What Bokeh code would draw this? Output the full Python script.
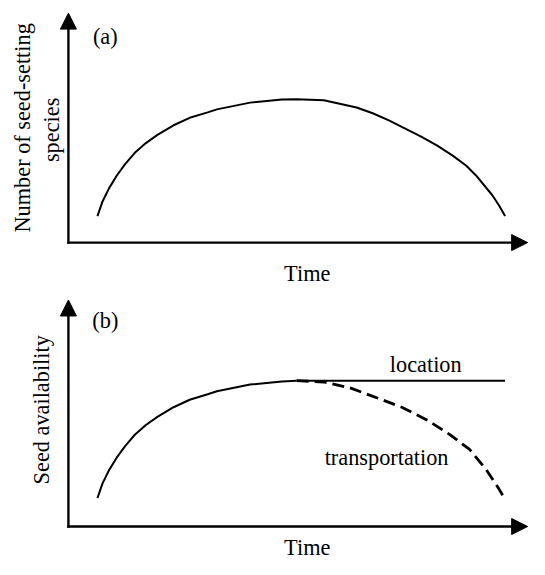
import numpy as np
from bokeh.plotting import figure
from bokeh.models import Range1d, Arrow, NormalHead, Label
from bokeh.layouts import column
from bokeh.embed import file_html
from bokeh.resources import INLINE

# ---------------- data (time / value units) ----------------
# Panel (a): number of seed-setting species over time
time_a = [6.3, 7.4, 8.8, 10.5, 12.3, 14.4, 16.8, 19.3, 22.8, 26.3, 30.2, 32.2, 39.4,
          46.3, 49.5, 55.4, 62.5, 66.0, 69.5, 76.5, 80.0, 83.5, 86.3, 88.4, 91.9, 93.3, 94.7]
species_a = [18.5, 28.7, 37.8, 46.8, 54.7, 62.6, 69.4, 75.1, 81.8, 87.0, 90.8, 92.9, 97.6,
             99.7, 100.0, 99.2, 94.2, 90.2, 85.2, 73.9, 67.6, 60.3, 53.6, 46.8, 33.2, 26.4, 18.5]

# Panel (b): seed availability, rising part (shared), then location vs transportation
time_b_rise = [6.3, 7.4, 8.8, 10.5, 12.3, 14.4, 16.8, 19.3, 22.8, 26.3, 30.2, 32.2, 39.4, 46.3, 49.5]
avail_b_rise = [19.9, 30.1, 39.2, 48.2, 56.1, 64.0, 70.8, 76.5, 83.2, 88.4, 92.2, 94.3, 99.0, 101.1, 101.7]

time_location = [49.5, 94.7]
avail_location = [101.7, 101.7]

time_transport = [49.5, 55.4, 61.1, 66.7, 72.3, 77.9, 82.8, 87.0, 90.5, 93.3, 94.7]
avail_transport = [101.7, 100.8, 96.7, 90.0, 83.2, 74.1, 63.9, 53.8, 40.2, 26.6, 19.0]

# axis extents (arrow tips)
time_axis_end = 99.6
value_axis_end_a = 160.0
value_axis_end_b = 158.0

FONT = "Liberation Serif"
FS = "22.3px"


def make_fig(height, y_start, y_end):
    p = figure(width=529, height=height,
               x_range=Range1d(-14.73, 100.0), y_range=Range1d(y_start, y_end),
               x_axis_type=None, y_axis_type=None,
               toolbar_location=None, output_backend="svg",
               min_border=0, outline_line_color=None)
    p.xgrid.visible = False
    p.ygrid.visible = False
    p.background_fill_color = "white"
    p.border_fill_color = "white"
    return p


def add_axes(p, y_top):
    for xe, ye in [(0, y_top), (time_axis_end, 0)]:
        p.add_layout(Arrow(end=NormalHead(size=16, fill_color="black", line_color="black", line_width=1),
                           x_start=0, y_start=0, x_end=xe, y_end=ye,
                           line_color="black", line_width=2.4, line_cap="square"))


def lab(p, x, y, text, angle=0.0, baseline="middle", align="center"):
    p.add_layout(Label(x=x, y=y, text=text, text_font=FONT, text_font_size=FS,
                       text_color="black", text_align=align, text_baseline=baseline,
                       angle=angle))


# ---------------- panel (a) ----------------
pa = make_fig(287, -31.3, 168.8)
add_axes(pa, value_axis_end_a)
pa.line(time_a, species_a, line_color="black", line_width=2)
lab(pa, 8.0, 143.7, "(a)")
lab(pa, -9.9, 80.0, "Number of seed-setting", angle=np.pi / 2)
lab(pa, -3.6, 78.6, "species", angle=np.pi / 2)
lab(pa, 51.8, -21.5, "Time", baseline="alphabetic")

# ---------------- panel (b) ----------------
pb = make_fig(272, -23.0, 166.7)
add_axes(pb, value_axis_end_b)
pb.line(time_b_rise, avail_b_rise, line_color="black", line_width=2)
pb.line(time_location, avail_location, line_color="black", line_width=2)
pb.line(time_transport, avail_transport, line_color="black", line_width=2.8, line_dash="12 6")
lab(pb, 8.0, 143.7, "(b)")
lab(pb, -5.9, 81.4, "Seed availability", angle=np.pi / 2)
lab(pb, 77.5, 113.2, "location", baseline="alphabetic")
lab(pb, 69.0, 48.3, "transportation", baseline="alphabetic")
lab(pb, 51.8, -14.4, "Time", baseline="alphabetic")

layout = column(pa, pb)
open("out.html", "w").write(file_html(layout, INLINE))
